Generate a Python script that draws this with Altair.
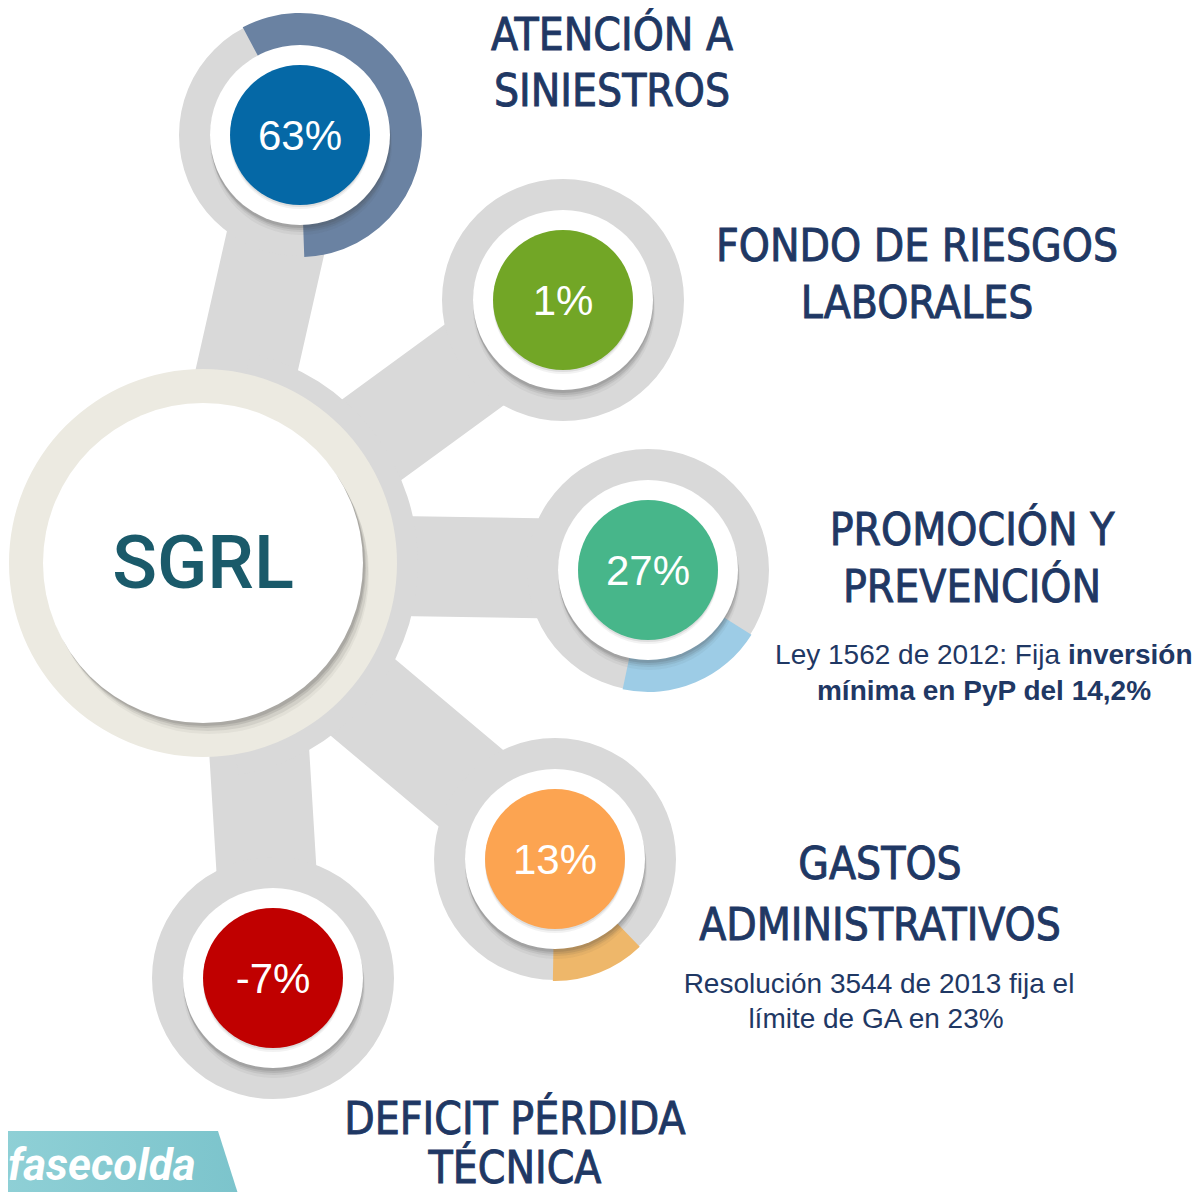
import math
import altair as alt
import pandas as pd

# ---------------- data ----------------
center_label = "SGRL"
node_values = [63, 1, 27, 13, -7]
node_labels = [f"{v}%" for v in node_values]
node_colors = ["#0568A6", "#72A626", "#47B68A", "#FCA451", "#C00000"]
heading_line1 = ["ATENCIÓN A", "FONDO DE RIESGOS", "PROMOCIÓN Y", "GASTOS", "DEFICIT PÉRDIDA"]
heading_line2 = ["SINIESTROS", "LABORALES", "PREVENCIÓN", "ADMINISTRATIVOS", "TÉCNICA"]

# highlighted ring segments (node index, start/end angle in degrees clockwise from 12 o'clock)
ring_nodes = [0, 2, 3]
ring_start_deg = [-28, 122, 136]
ring_end_deg = [178, 192, 181]
ring_colors = ["#6A82A2", "#9DCCE6", "#EEB76A"]

note_pyp_regular = "Ley 1562 de 2012: Fija"
note_pyp_bold1 = "inversión"
note_pyp_bold2 = "mínima en PyP del 14,2%"
note_ga_lines = ["Resolución 3544 de 2013 fija el", "límite de GA en 23%"]
logo_text = "fasecolda"

# ---------------- layout ----------------
W, H = 1185, 1184
X0, Y0 = 8, 8
center_x, center_y = 203, 563
node_x = [300, 563, 648, 555, 273]
node_y = [135, 300, 570, 859, 978]
neck_root_x = [203, 203, 203, 203, 250]
neck_root_y = [563, 563, 563, 563, 600]
heading_x = [612, 917, 972, 880, 515]
heading_y1 = [50, 261, 545, 879, 1134]
heading_y2 = [106, 318, 602, 940, 1183]

GREY = "#D9D9D9"
NAVY = "#1F3864"
HEAD_FONT = "DejaVu Sans Condensed"

xs = alt.Scale(domain=[X0, X0 + W], nice=False, zero=False)
ys = alt.Scale(domain=[Y0 + H, Y0], nice=False, zero=False)


def XY(xf="x", yf="y"):
    return dict(x=alt.X(f"{xf}:Q", scale=xs, axis=None),
                y=alt.Y(f"{yf}:Q", scale=ys, axis=None))


def sz(r):
    # Vega circle symbol: diameter = sqrt(size)
    return (2 * r) ** 2


nodes = pd.DataFrame({"x": node_x, "y": node_y, "label": node_labels,
                      "color": node_colors,
                      "rx": neck_root_x, "ry": neck_root_y})

layers = []

# necks
layers.append(
    alt.Chart(nodes).mark_rule(color=GREY, strokeWidth=100, strokeCap="round").encode(
        x=alt.X("rx:Q", scale=xs, axis=None), y=alt.Y("ry:Q", scale=ys, axis=None),
        x2="x:Q", y2="y:Q")
)

# grey fill around right side of hub
a1 = math.atan2(node_x[0] - center_x, center_y - node_y[0])
a5 = math.atan2(node_x[4] - center_x, center_y - node_y[4])
hub = pd.DataFrame({"x": [center_x], "y": [center_y], "t0": [a1], "t1": [a5]})
layers.append(
    alt.Chart(hub).mark_arc(radius=215, color=GREY).encode(
        **XY(), theta=alt.Theta("t0:Q", scale=None, stack=False), theta2="t1:Q")
)

# grey outer circles of nodes
layers.append(
    alt.Chart(nodes).mark_circle(size=sz(121), color=GREY, opacity=1).encode(**XY())
)

# highlighted ring arcs
rings = pd.DataFrame({
    "x": [node_x[i] for i in ring_nodes],
    "y": [node_y[i] for i in ring_nodes],
    "t0": [math.radians(a) for a in ring_start_deg],
    "t1": [math.radians(a) for a in ring_end_deg],
    "color": ring_colors,
})
layers.append(
    alt.Chart(rings).mark_arc(radius=122, radius2=86).encode(
        **XY(), theta=alt.Theta("t0:Q", scale=None, stack=False), theta2="t1:Q",
        color=alt.Color("color:N", scale=None))
)

# soft shadows of white node circles
for dx, dy, dr, op in [(1, 9, 1, 0.06), (1, 7, 0, 0.09), (1, 5, 0, 0.12), (0, 3, 0, 0.15)]:
    sh = nodes.assign(x=nodes.x + dx, y=nodes.y + dy)
    layers.append(alt.Chart(sh).mark_circle(size=sz(90 + dr), color="#444444", opacity=op).encode(**XY()))

# white circles
layers.append(alt.Chart(nodes).mark_circle(size=sz(90), color="white", opacity=1).encode(**XY()))

# faint shadow of colored circles
for dy, op in [(4, 0.08), (2, 0.12)]:
    sh = nodes.assign(y=nodes.y + dy)
    layers.append(alt.Chart(sh).mark_circle(size=sz(70), color="#555555", opacity=op).encode(**XY()))

# colored circles
layers.append(
    alt.Chart(nodes).mark_circle(size=sz(70), opacity=1).encode(
        **XY(), color=alt.Color("color:N", scale=None))
)

# percentages
pct = nodes.assign(y=nodes.y + 15)
layers.append(
    alt.Chart(pct).mark_text(font="Liberation Sans", fontSize=42, color="white",
                             align="center", baseline="alphabetic").encode(**XY(), text="label:N")
)

# hub
hub_df = pd.DataFrame({"x": [center_x], "y": [center_y], "label": [center_label]})
layers.append(alt.Chart(hub_df).mark_circle(size=sz(194), color="#ECEAE1", opacity=1).encode(**XY()))
for dx, dy, op in [(6, 11, 0.06), (5, 8, 0.10), (3, 5, 0.14), (2, 3, 0.16)]:
    hs = hub_df.assign(x=center_x + dx, y=center_y + dy)
    layers.append(alt.Chart(hs).mark_circle(size=sz(160), color="#444444", opacity=op).encode(**XY()))
layers.append(alt.Chart(hub_df).mark_circle(size=sz(160), color="white", opacity=1).encode(**XY()))
layers.append(
    alt.Chart(hub_df.assign(y=center_y + 25)).mark_text(
        font="Roboto", fontWeight=500, fontSize=74, color="#1A5A6A",
        align="center", baseline="alphabetic").encode(**XY(), text="label:N")
)

# headings
heads = pd.DataFrame({
    "x": heading_x * 2,
    "y": heading_y1 + heading_y2,
    "label": heading_line1 + heading_line2,
})
layers.append(
    alt.Chart(heads).mark_text(font=HEAD_FONT, fontSize=44, color=NAVY, stroke=NAVY, strokeWidth=0.9,
                               align="center", baseline="alphabetic").encode(**XY(), text="label:N")
)

# notes
n_reg = pd.DataFrame({"x": [1060], "y": [664], "label": [note_pyp_regular]})
n_b1 = pd.DataFrame({"x": [1068], "y": [664], "label": [note_pyp_bold1]})
n_b2 = pd.DataFrame({"x": [984], "y": [700], "label": [note_pyp_bold2]})
layers.append(alt.Chart(n_reg).mark_text(font="Liberation Sans", fontSize=28, color=NAVY,
                                         align="right", baseline="alphabetic").encode(**XY(), text="label:N"))
layers.append(alt.Chart(n_b1).mark_text(font="Liberation Sans", fontWeight="bold", fontSize=28,
                                        color=NAVY, align="left", baseline="alphabetic").encode(**XY(), text="label:N"))
layers.append(alt.Chart(n_b2).mark_text(font="Liberation Sans", fontWeight="bold", fontSize=28,
                                        color=NAVY, align="center", baseline="alphabetic").encode(**XY(), text="label:N"))
n_ga = pd.DataFrame({"x": [879, 876], "y": [993, 1028], "label": note_ga_lines})
layers.append(alt.Chart(n_ga).mark_text(font="Liberation Sans", fontSize=28, color=NAVY,
                                        align="center", baseline="alphabetic").encode(**XY(), text="label:N"))

# logo
logo_band = pd.DataFrame({"y": [1131, 1200], "x": [218, 240], "x2": [0, 0]})
layers.append(
    alt.Chart(logo_band).mark_area(
        orient="horizontal",
        color=alt.Gradient(gradient="linear", x1=0, x2=1, y1=0, y2=0,
                           stops=[alt.GradientStop(color="#8FD0D6", offset=0),
                                  alt.GradientStop(color="#7CC4CC", offset=1)])
    ).encode(y=alt.Y("y:Q", scale=ys, axis=None), x=alt.X("x:Q", scale=xs, axis=None), x2="x2:Q")
)
logo_df = pd.DataFrame({"x": [8], "y": [1180], "label": [logo_text]})
layers.append(
    alt.Chart(logo_df).mark_text(font="Roboto", fontWeight="bold", fontStyle="italic", fontSize=44,
                                 color="white", align="left", baseline="alphabetic").encode(**XY(), text="label:N")
)

chart = alt.layer(*layers).properties(
    width=W, height=H, padding=0,
    autosize=alt.AutoSizeParams(type="none"),
    background="white",
).configure_view(stroke=None)

chart.save("out.html", embed_options={"renderer": "svg", "actions": False})
